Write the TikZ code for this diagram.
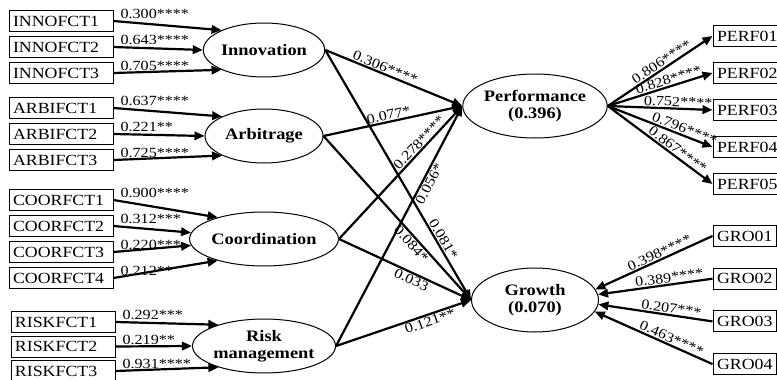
\documentclass[tikz,border=0pt]{standalone}
\usepackage{fontspec}
\setmainfont[FakeStretch=1.15]{Liberation Serif}
\usetikzlibrary{arrows.meta,shapes.geometric}

\tikzset{
  item/.style={draw, line width=1pt, text width=96pt, inner xsep=4pt, inner ysep=0pt, minimum height=21pt, align=left, font=\fontsize{15.5}{17}\selectfont},
  perfbox/.style={item, text width=84pt},
  grobox/.style={item, text width=55pt},
  factor/.style={draw, ellipse, line width=1pt, minimum width=118pt, minimum height=54pt, inner sep=0pt, align=center, font=\fontsize{16}{17}\selectfont\bfseries},
  outcome/.style={factor, minimum width=127pt, minimum height=64pt},
  coef/.style={font=\fontsize{14}{14}\selectfont, inner sep=1pt},
  load/.style={coef, pos=0, anchor=south west, xshift=5pt}
}

\begin{document}
\begin{tikzpicture} [x = 1pt, y = -1pt, -{Triangle[length = 10pt, width = 8.5pt]}, line width = 2.2pt, node distance = 26pt]
        \useasboundingbox (0,0) rectangle (777,380);
        \clip (0,0) rectangle (777,380);

        \node [item] (innofct1) at (61,21) {INNOFCT1};
        \node [item] (innofct2) [below of = innofct1] {INNOFCT2};
        \node [item] (innofct3) [below of = innofct2] {INNOFCT3};

        \node [item] (arbifct1) at (61,108) {ARBIFCT1};
        \node [item] (arbifct2) [below of = arbifct1] {ARBIFCT2};
        \node [item] (arbifct3) [below of = arbifct2] {ARBIFCT3};

        \node [item] (coorfct1) at (61,200) {COORFCT1};
        \node [item] (coorfct2) [below of = coorfct1] {COORFCT2};
        \node [item] (coorfct3) [below of = coorfct2] {COORFCT3};
        \node [item] (coorfct4) [below of = coorfct3] {COORFCT4};

        \node [item] (riskfct1) at (63,322) {RISKFCT1};
        \node [item] (riskfct2) [node distance = 24.5pt, below of = riskfct1] {RISKFCT2};
        \node [item] (riskfct3) [node distance = 24.5pt, below of = riskfct2] {RISKFCT3};

        \node [factor] (innov) at (264,50) {Innovation};
        \node [factor] (arbi) at (264,136) {Arbitrage};
        \node [factor] (coord) at (264,239) {Coordination};
        \node [factor] (risk) at (264,346) {Risk\\management};

        \node [outcome] (perf) at (535,106) {Performance\\(0.396)};
        \node [outcome] (growth) at (535,300) {Growth\\(0.070)};

        \node [perfbox] (perf1) at (759,36) {PERF01};
        \node [perfbox] (perf2) [node distance = 37pt, below of = perf1] {PERF02};
        \node [perfbox] (perf3) [node distance = 37pt, below of = perf2] {PERF03};
        \node [perfbox] (perf4) [node distance = 37pt, below of = perf3] {PERF04};
        \node [perfbox] (perf5) [node distance = 37pt, below of = perf4] {PERF05};

        \node [grobox] (gro1) at (744.5,236) {GRO01};
        \node [grobox] (gro2) [node distance = 42.7pt, below of = gro1] {GRO02};
        \node [grobox] (gro3) [node distance = 42.7pt, below of = gro2] {GRO03};
        \node [grobox] (gro4) [node distance = 42.7pt, below of = gro3] {GRO04};

        \path (innofct1.east) edge node [load] {0.300****} (innov.155);
        \path (innofct2.east) edge node [load] {0.643****} (innov.west);
        \path (innofct3.east) edge node [load] {0.705****} (innov.205);

        \path (arbifct1.east) edge node [load] {0.637****} (arbi.155);
        \path (arbifct2.east) edge node [load] {0.221**} (arbi.west);
        \path (arbifct3.east) edge node [load] {0.725****} (arbi.205);

        \path (coorfct1.east) edge node [load] {0.900****} (coord.155);
        \path (coorfct2.east) edge node [load] {0.312***} (coord.175);
        \path (coorfct3.east) edge node [load] {0.220***} (coord.185);
        \path (coorfct4.east) edge node [load] {0.212**} (coord.205);

        \path (riskfct1.east) edge node [load] {0.292***} (risk.155);
        \path (riskfct2.east) edge node [load] {0.219**} (risk.west);
        \path (riskfct3.east) edge node [load] {0.931****} (risk.205);

        \path (innov.east) edge node [coef, sloped, above, pos = 0.42] {0.306****} (perf.west);
        \path (innov.east) edge node [coef, sloped, above, pos = 0.77] {0.081*} (growth.west);
        \path (arbi.east) edge node [coef, sloped, above, pos = 0.48] {0.077*} (perf.west);
        \path (arbi.east) edge node [coef, sloped, below, pos = 0.63] {0.084*} (growth.west);
        \path (coord.east) edge node [coef, sloped, above, pos = 0.69] {0.278****} (perf.west);
        \path (coord.east) edge node [coef, sloped, below, pos = 0.57] {0.033} (growth.west);
        \path (risk.east) edge node [coef, sloped, below, pos = 0.69] {0.056*} (perf.west);
        \path (risk.east) edge node [coef, sloped, below, pos = 0.68] {0.121**} (growth.west);

        \path (perf.east) edge node [coef, sloped, above, pos = 0.55] {0.806****} (perf1.west);
        \path (perf.east) edge node [coef, sloped, above, pos = 0.6] {0.828****} (perf2.west);
        \path (perf.east) edge node [coef, sloped, above, pos = 0.67] {0.752****} (perf3.west);
        \path (perf.east) edge node [coef, sloped, above, pos = 0.71] {0.796****} (perf4.west);
        \path (perf.east) edge node [coef, sloped, above, pos = 0.63] {0.867****} (perf5.west);

        \path (gro1.west) edge node [coef, sloped, above, pos = 0.43] {0.398****} (growth.10);
        \path (gro2.west) edge node [coef, sloped, above, pos = 0.37] {0.389****} (growth.5);
        \path (gro3.west) edge node [coef, sloped, above, pos = 0.37] {0.207***} (growth.-4);
        \path (gro4.west) edge node [coef, sloped, above, pos = 0.37] {0.463****} (growth.-11);

    \end{tikzpicture}
\end{document}
